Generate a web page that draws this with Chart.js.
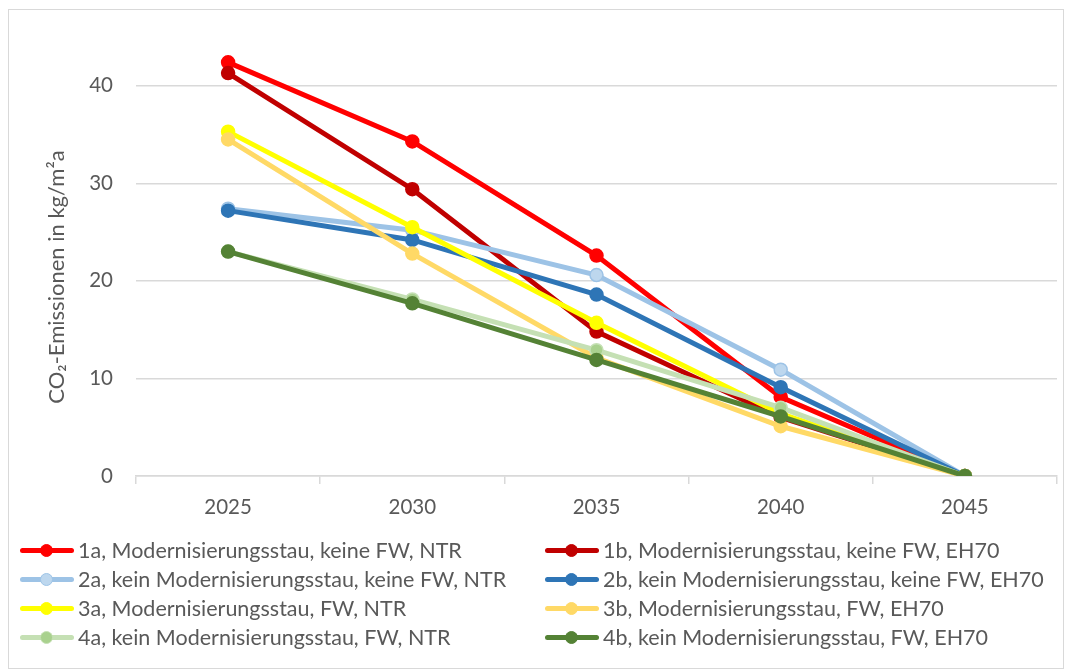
<!DOCTYPE html>
<html>
<head>
<meta charset="utf-8">
<title>CO2-Emissionen</title>
<script src="https://cdn.jsdelivr.net/npm/chart.js@4"></script>
<style>
  html, body { margin: 0; padding: 0; background: #fff; }
  #wrap { position: relative; width: 1065px; height: 671px; }
  #frame { position: absolute; left: 8px; top: 9px; width: 1056px; height: 660px;
           border: 1.5px solid #d9d9d9; box-sizing: border-box; }
  #chart { position: absolute; left: 0; top: 0; }
  #legend { position: absolute; left: 0; top: 0; width: 1065px; height: 671px;
            font-family: Lato, "Open Sans", sans-serif; font-size: 21.5px; color: #595959; }
  .item { position: absolute; height: 29px; display: flex; align-items: center; white-space: nowrap; }
  .mk { position: relative; width: 54px; height: 29px; margin-right: 4px; flex: none; }
  .mk .ln { position: absolute; left: 0; right: 0; top: 12px; height: 5px; border-radius: 2.5px; }
  .mk .dot { position: absolute; left: 20px; top: 8px; width: 13px; height: 13px;
             border-radius: 50%; box-sizing: border-box; border: 1.5px solid; }
</style>
</head>
<body>
<div id="wrap">
  <div id="frame"></div>
  <canvas id="chart" width="1065" height="671"></canvas>
  <div id="legend"></div>
</div>
<script>
// Years on the category axis
const years = ['2025', '2030', '2035', '2040', '2045'];

// CO2 emissions per scenario (kg/m²a)
const s1a = [42.4, 34.3, 22.6, 8.1, 0];
const s1b = [41.3, 29.4, 14.8, 6.0, 0];
const s2a = [27.4, 25.2, 20.6, 10.9, 0];
const s2b = [27.2, 24.2, 18.6, 9.1, 0];
const s3a = [35.3, 25.5, 15.7, 6.4, 0];
const s3b = [34.5, 22.8, 12.1, 5.1, 0];
const s4a = [23.0, 18.1, 12.9, 7.0, 0];
const s4b = [23.0, 17.7, 11.9, 6.1, 0];

const seriesLabels = [
  '1a, Modernisierungsstau, keine FW, NTR',
  '1b, Modernisierungsstau, keine FW, EH70',
  '2a, kein Modernisierungsstau, keine FW, NTR',
  '2b, kein Modernisierungsstau, keine FW, EH70',
  '3a, Modernisierungsstau, FW, NTR',
  '3b, Modernisierungsstau, FW, EH70',
  '4a, kein Modernisierungsstau, FW, NTR',
  '4b, kein Modernisierungsstau, FW, EH70'
];
const seriesValues = [s1a, s1b, s2a, s2b, s3a, s3b, s4a, s4b];

const yTicks = [0, 10, 20, 30, 40];
const yTitle = 'CO\u2082-Emissionen in kg/m\u00B2a';

// Line colour and marker fill per scenario
const lineColors = ['#FF0000', '#C00000', '#9DC3E6', '#2E75B6', '#FFFF00', '#FFD966', '#C5E0B4', '#548235'];
const markerFills = ['#FF0000', '#C00000', '#BDD7EE', '#2E75B6', '#FFFF00', '#FFD966', '#A9D18E', '#548235'];

const FONT = 'Lato, "Open Sans", sans-serif';
const TEXT = '#595959';
const GRID = '#d9d9d9';

const datasets = seriesValues.map((vals, i) => ({
  label: seriesLabels[i],
  data: vals,
  borderColor: lineColors[i],
  backgroundColor: lineColors[i],
  borderWidth: 5,
  pointRadius: 6.5,
  pointBorderWidth: 1.5,
  pointBackgroundColor: markerFills[i],
  pointBorderColor: lineColors[i],
  tension: 0,
  // later scenarios are painted over earlier ones
  order: seriesValues.length - i
}));

// Rotated y-axis title
const yTitlePlugin = {
  id: 'yTitle',
  afterDraw(chart) {
    const ctx = chart.ctx;
    ctx.save();
    ctx.translate(57, 277);
    ctx.rotate(-Math.PI / 2);
    ctx.font = '22px ' + FONT;
    ctx.fillStyle = TEXT;
    ctx.textAlign = 'center';
    ctx.textBaseline = 'middle';
    ctx.fillText(yTitle, 0, 0);
    ctx.restore();
  }
};

new Chart(document.getElementById('chart'), {
  type: 'line',
  data: { labels: years, datasets },
  plugins: [yTitlePlugin],
  options: {
    responsive: false,
    animation: false,
    layout: { padding: { top: 37, right: 5, left: 0, bottom: 0 } },
    plugins: { legend: { display: false }, tooltip: { enabled: false } },
    scales: {
      x: {
        offset: true,
        grid: { offset: true, drawOnChartArea: false, drawTicks: true, tickLength: 8, color: GRID, lineWidth: 1.5 },
        border: { display: true, color: GRID, width: 1.5 },
        ticks: { color: TEXT, font: { family: FONT, size: 20.5 }, padding: 11, maxRotation: 0 },
        afterFit(s) { s.height = 195; s.paddingLeft = 0; s.paddingRight = 0; }
      },
      y: {
        min: 0,
        max: 45,
        afterBuildTicks(s) { s.ticks = yTicks.map(v => ({ value: v })); },
        grid: { color: GRID, lineWidth: 1.5, drawTicks: false },
        border: { display: false },
        ticks: { color: TEXT, font: { family: FONT, size: 20.5 }, padding: 23 },
        afterFit(s) { s.width = 136; }
      }
    }
  }
});

// Two-column legend built from the same series definitions
const legend = document.getElementById('legend');
seriesLabels.forEach((label, i) => {
  const col = i % 2, row = Math.floor(i / 2);
  const item = document.createElement('div');
  item.className = 'item';
  item.style.left = (col === 0 ? 20 : 545) + 'px';
  item.style.top = (550 + row * 29 - 14.5) + 'px';
  const mk = document.createElement('div');
  mk.className = 'mk';
  const ln = document.createElement('div');
  ln.className = 'ln';
  ln.style.background = lineColors[i];
  const dot = document.createElement('div');
  dot.className = 'dot';
  dot.style.background = markerFills[i];
  dot.style.borderColor = lineColors[i];
  mk.appendChild(ln);
  mk.appendChild(dot);
  const txt = document.createElement('span');
  txt.textContent = label;
  item.appendChild(mk);
  item.appendChild(txt);
  legend.appendChild(item);
});
</script>
</body>
</html>
